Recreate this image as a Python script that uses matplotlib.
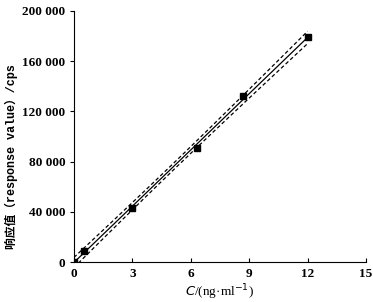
import numpy as np
import matplotlib.pyplot as plt

conc = [0, 0.5, 3, 6.3, 8.7, 12]
response = [0, 8800, 43000, 90500, 132000, 179000]
xticks = [0, 3, 6, 9, 12, 15]
yticks = [0, 40000, 80000, 120000, 160000, 200000]
ytick_labels = ['0', '40 000', '80 000', '120 000', '160 000', '200 000']

x = np.array(conc)
y = np.array(response)
k, b = np.polyfit(x, y, 1)
xx = np.linspace(0, 12, 100)
fit = k * xx + b
# 95% confidence band of the fit
n = len(x)
resid = y - (k * x + b)
s = np.sqrt(np.sum(resid ** 2) / (n - 2))
t = 2.776
se = s * np.sqrt(1 / n + (xx - x.mean()) ** 2 / np.sum((x - x.mean()) ** 2))

fig = plt.figure(figsize=(3.73, 3.02), dpi=100)
ax = fig.add_axes([0.198, 0.132, 0.783, 0.832])

ax.plot(xx, fit, color='black', lw=0.9)
ax.plot(xx, fit + t * se, color='black', lw=0.9, ls=(0, (3, 2)))
ax.plot(xx, fit - t * se, color='black', lw=0.9, ls=(0, (3, 2)))
ax.plot(x, y, 's', color='black', ms=4)

ax.set_xlim(0, 15)
ax.set_ylim(0, 200000)
ax.set_xticks(xticks)
ax.set_yticks(yticks)
ax.set_yticklabels(ytick_labels)
for sp in ['top', 'right']:
    ax.spines[sp].set_visible(False)
ax.tick_params(axis='x', direction='in', length=3, width=0.8, pad=4)
ax.tick_params(axis='y', direction='out', length=3, width=0.8, pad=3)
for lab in ax.get_xticklabels() + ax.get_yticklabels():
    lab.set_fontfamily('Liberation Serif')
    lab.set_fontweight('bold')
    lab.set_fontsize(9.5)

ax.set_xlabel(r'$C$/(ng·ml$^{-1}$)', fontsize=9.5, family=['Liberation Serif', 'DejaVu Sans'], labelpad=2)
ax.set_ylabel('响应值（response value）/cps', fontsize=8.5,
              family=['Liberation Mono', 'Noto Sans CJK SC'], fontweight='bold')
ax.yaxis.set_label_coords(-0.19, 0.42)

plt.savefig('out.png', dpi=100)
